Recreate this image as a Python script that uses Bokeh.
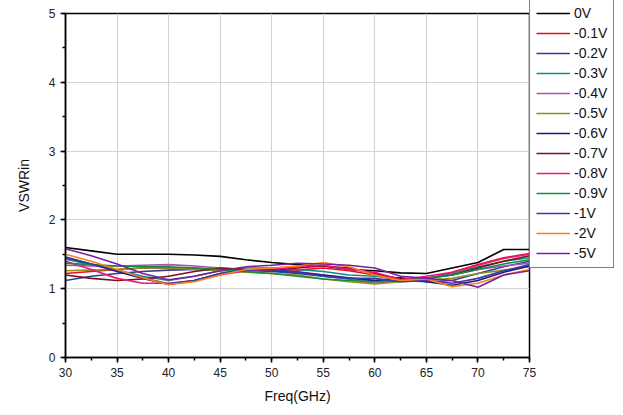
from bokeh.plotting import figure
from bokeh.models import Legend, LegendItem, Range1d, FixedTicker
from bokeh.embed import file_html
from bokeh.resources import INLINE

freq = [30, 32.5, 35, 37.5, 40, 42.5, 45, 47.5, 50, 52.5, 55, 57.5, 60, 62.5, 65, 67.5, 70, 72.5, 75]

labels = ["0V", "-0.1V", "-0.2V", "-0.3V", "-0.4V", "-0.5V", "-0.6V",
          "-0.7V", "-0.8V", "-0.9V", "-1V", "-2V", "-5V"]

v_0 = [1.60, 1.55, 1.50, 1.50, 1.50, 1.49, 1.47, 1.42, 1.38, 1.35, 1.33, 1.28, 1.26, 1.23, 1.22, 1.30, 1.38, 1.57, 1.57]
v_01 = [1.22, 1.25, 1.28, 1.30, 1.30, 1.30, 1.28, 1.27, 1.25, 1.27, 1.30, 1.26, 1.20, 1.15, 1.14, 1.24, 1.35, 1.45, 1.51]
v_02 = [1.12, 1.18, 1.22, 1.25, 1.27, 1.28, 1.28, 1.27, 1.25, 1.22, 1.18, 1.14, 1.12, 1.12, 1.10, 1.12, 1.22, 1.32, 1.40]
v_03 = [1.43, 1.35, 1.27, 1.18, 1.12, 1.18, 1.26, 1.30, 1.30, 1.28, 1.25, 1.20, 1.18, 1.14, 1.15, 1.22, 1.32, 1.40, 1.45]
v_04 = [1.34, 1.33, 1.33, 1.34, 1.35, 1.33, 1.30, 1.28, 1.27, 1.25, 1.20, 1.15, 1.08, 1.12, 1.16, 1.20, 1.28, 1.33, 1.37]
v_05 = [1.26, 1.27, 1.28, 1.30, 1.30, 1.28, 1.26, 1.24, 1.22, 1.20, 1.14, 1.10, 1.07, 1.10, 1.12, 1.15, 1.22, 1.27, 1.32]
v_06 = [1.46, 1.36, 1.25, 1.15, 1.06, 1.12, 1.22, 1.27, 1.27, 1.24, 1.20, 1.16, 1.12, 1.16, 1.10, 1.05, 1.12, 1.24, 1.33]
v_07 = [1.20, 1.15, 1.12, 1.14, 1.18, 1.25, 1.30, 1.28, 1.27, 1.30, 1.33, 1.30, 1.22, 1.14, 1.15, 1.20, 1.30, 1.40, 1.48]
v_08 = [1.40, 1.28, 1.15, 1.08, 1.08, 1.12, 1.20, 1.26, 1.28, 1.32, 1.34, 1.28, 1.24, 1.13, 1.18, 1.24, 1.34, 1.44, 1.50]
v_09 = [1.37, 1.35, 1.33, 1.32, 1.32, 1.30, 1.28, 1.25, 1.22, 1.18, 1.14, 1.12, 1.10, 1.12, 1.15, 1.20, 1.28, 1.36, 1.42]
v_1 = [1.45, 1.36, 1.27, 1.16, 1.07, 1.12, 1.22, 1.27, 1.28, 1.24, 1.18, 1.15, 1.15, 1.10, 1.12, 1.08, 1.15, 1.26, 1.35]
v_2 = [1.50, 1.40, 1.28, 1.16, 1.06, 1.10, 1.20, 1.28, 1.30, 1.33, 1.38, 1.32, 1.20, 1.12, 1.14, 1.03, 1.08, 1.20, 1.28]
v_5 = [1.58, 1.48, 1.36, 1.22, 1.13, 1.18, 1.26, 1.32, 1.34, 1.37, 1.36, 1.34, 1.30, 1.18, 1.15, 1.12, 1.02, 1.20, 1.26]

series = [v_0, v_01, v_02, v_03, v_04, v_05, v_06, v_07, v_08, v_09, v_1, v_2, v_5]
colors = ["#000000", "#e8101a", "#2e3e9e", "#128a8a", "#b04fb0", "#8e8e1c", "#1a1a7a",
          "#7a1018", "#f0147c", "#0e8e3e", "#3a3aa8", "#ff8010", "#7a1fa0"]

p = figure(frame_width=464, frame_height=344, output_backend="svg", toolbar_location=None,
           min_border_left=65, min_border_right=0, min_border_top=13, min_border_bottom=58)
p.x_range = Range1d(30, 75)
p.y_range = Range1d(0, 5)
p.background_fill_color = "white"
p.border_fill_color = "white"
p.outline_line_color = "black"
p.outline_line_width = 1.5

font = "Liberation Sans"
for ax in (p.xaxis[0], p.yaxis[0]):
    ax.major_tick_in = 0
    ax.major_tick_out = 5
    ax.minor_tick_in = 0
    ax.minor_tick_out = 3
    ax.axis_line_color = "black"
    ax.axis_line_width = 1.5
    ax.major_tick_line_color = "black"
    ax.minor_tick_line_color = "black"
    ax.major_tick_line_width = 1.5
    ax.minor_tick_line_width = 1.5
    ax.major_label_text_font = font
    ax.major_label_text_font_size = "12px"
    ax.major_label_text_color = "#222222"
    ax.axis_label_text_font = font
    ax.axis_label_text_font_size = "14px"
    ax.axis_label_text_font_style = "normal"
    ax.axis_label_text_color = "#111111"

p.xaxis[0].ticker = FixedTicker(ticks=list(range(30, 76, 5)),
                                minor_ticks=[30 + 2.5 * i for i in range(19)])
p.yaxis[0].ticker = FixedTicker(ticks=[0, 1, 2, 3, 4, 5],
                                minor_ticks=[0.5 * i for i in range(11)])
p.xaxis[0].axis_label = "Freq(GHz)"
p.yaxis[0].axis_label = "VSWRin"
p.xaxis[0].axis_label_standoff = 8
p.yaxis[0].axis_label_standoff = 14

p.xgrid.grid_line_color = "#d4d4d4"
p.ygrid.grid_line_color = "#d4d4d4"
p.xgrid.grid_line_width = 1.2
p.ygrid.grid_line_width = 1.2

items = []
for lab, ys, c in zip(labels, series, colors):
    r = p.line(freq, ys, line_color=c, line_width=1.6)
    items.append(LegendItem(label=lab, renderers=[r]))

legend = Legend(items=items, location=(0, 89))
legend.label_text_font = font
legend.label_text_font_size = "14px"
legend.label_text_color = "#111111"
legend.glyph_width = 34
legend.glyph_height = 16
legend.label_height = 16
legend.spacing = 4
legend.padding = 6
legend.margin = 0
legend.label_standoff = 4
legend.border_line_color = "black"
legend.border_line_width = 1
legend.background_fill_color = "white"
legend.background_fill_alpha = 1
p.add_layout(legend, "right")

open("out.html", "w").write(file_html(p, INLINE))
